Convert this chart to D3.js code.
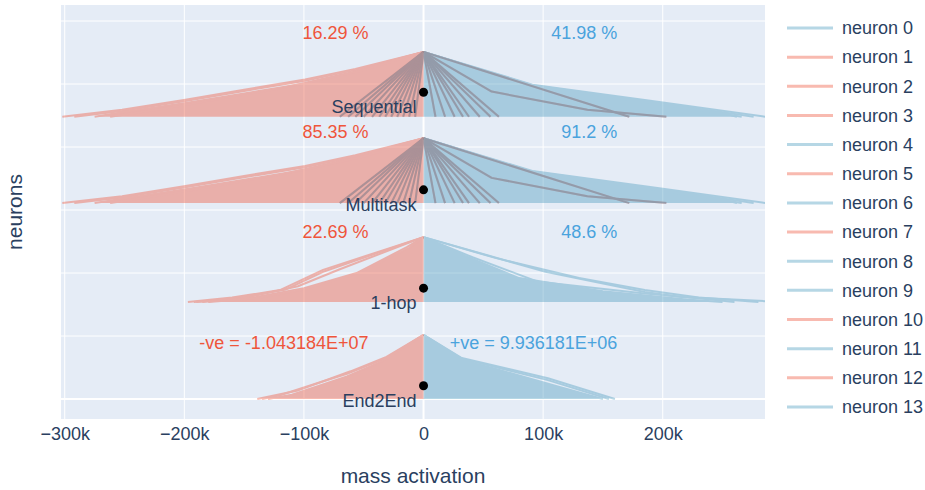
<!DOCTYPE html>
<html>
<head>
<meta charset="utf-8">
<script src="https://cdn.jsdelivr.net/npm/d3@7"></script>
<style>
  body { margin: 0; background: #fff; }
  text { font-family: "Liberation Sans", Arial, sans-serif; }
</style>
</head>
<body>
<svg id="chart"></svg>
<script>
const width = 925;
const height = 490;

// ---- data (x in thousands, heights in "neurons" axis units above each model's baseline)
const neurons = ['neuron 0', 'neuron 1', 'neuron 2', 'neuron 3', 'neuron 4', 'neuron 5', 'neuron 6',
  'neuron 7', 'neuron 8', 'neuron 9', 'neuron 10', 'neuron 11', 'neuron 12', 'neuron 13'];
const neuronSign = ['+', '-', '-', '-', '+', '-', '+', '-', '+', '+', '-', '+', '-', '+'];

const models = ['Sequential', 'Multitask', '1-hop', 'End2End'];
const modelBase = [4.48, 3.11, 1.54, 0];
const modelTop = [1.03, 1.03, 1.03, 1.02];
const markerY = [4.87, 3.32, 1.76, 0.21];
const negText = ['16.29 %', '85.35 %', '22.69 %', '-ve = -1.043184E+07'];
const posText = ['41.98 %', '91.2 %', '48.6 %', '+ve = 9.936181E+06'];
const textY = [5.81, 4.24, 2.65, 0.89];

const xTicks = [-300, -200, -100, 0, 100, 200];
const yGrid = [0, 1, 2, 3, 4, 5, 6];

// Sequential / Multitask
const seqNegLines = [
  [[0, 1.03], [-57, 0.76], [-99, 0.59], [-150, 0.43], [-199, 0.27], [-252, 0.11], [-302, 0]],
  [[0, 1.03], [-57, 0.74], [-99, 0.57], [-150, 0.41], [-199, 0.25], [-252, 0.09], [-292, 0]],
  [[0, 1.03], [-57, 0.72], [-120, 0.45], [-220, 0.12], [-262, 0]]
];
const seqNegFill = [[0, 1.03], [-50, 0.74], [-99, 0.53], [-150, 0.37], [-199, 0.22], [-252, 0.07], [-275, 0]];
const seqPosLines = [
  [[0, 1.03], [91, 0.51], [188, 0.26], [286, 0]],
  [[0, 1.03], [91, 0.50], [200, 0.21], [276, 0]],
  [[0, 1.03], [95, 0.47], [170, 0.27], [250, 0.06], [262, 0]]
];
const seqPosFill = [[0, 1.03], [91, 0.49], [188, 0.23], [250, 0.05], [266, 0]];
const seqFanEnds = [-70, -63, -57, -50, -43, -37, -32, -27, -22, -17, -12, -7,
  10, 18, 26, 33, 38, 47, 56, 63, 172];
const seqFanCurves = [[[0, 1.03], [57, 0.40], [137, 0.11], [203, 0]]];

// 1-hop
const hopNegLines = [
  [[0, 1.03], [-84, 0.51], [-120, 0.19], [-160, 0.07], [-197, 0]],
  [[0, 1.03], [-84, 0.48], [-115, 0.2], [-160, 0.05], [-192, 0]],
  [[0, 1.03], [-70, 0.52], [-105, 0.25], [-150, 0.06], [-185, 0]],
  [[0, 1.03], [-14, 0.87], [-56, 0.46], [-100, 0.22], [-140, 0.08], [-190, 0]]
];
const hopNegFill = [[0, 1.03], [-12, 0.86], [-56, 0.45], [-100, 0.2], [-140, 0.06], [-180, 0]];
const hopPosLines = [
  [[0, 1.03], [102, 0.48], [185, 0.16], [216, 0.08], [300, 0]],
  [[0, 1.03], [60, 0.70], [130, 0.38], [185, 0.19], [230, 0.07], [280, 0]],
  [[0, 1.03], [41, 0.71], [96, 0.32], [183, 0.14], [240, 0.04], [260, 0]]
];
const hopPosFill = [[0, 1.03], [35, 0.73], [80, 0.38], [150, 0.17], [220, 0.04], [250, 0]];

// End2End
const e2eNegLines = [
  [[0, 1.02], [-31, 0.67], [-61, 0.44], [-106, 0.13], [-139, 0]],
  [[0, 1.02], [-31, 0.65], [-64, 0.40], [-89, 0.25], [-120, 0.06], [-135, 0]]
];
const e2eNegFill = [[0, 1.02], [-31, 0.63], [-64, 0.36], [-89, 0.2], [-110, 0.07], [-130, 0]];
const e2ePosLines = [
  [[0, 1.02], [32, 0.65], [104, 0.33], [160, 0]],
  [[0, 1.02], [32, 0.64], [104, 0.3], [155, 0]]
];
const e2ePosFill = [[0, 1.02], [32, 0.62], [60, 0.48], [110, 0.21], [150, 0]];

const fanNeurons = [2, 4];

const panels = [
  { negLines: seqNegLines, negFill: seqNegFill, posLines: seqPosLines, posFill: seqPosFill, fanEnds: seqFanEnds, fanCurves: seqFanCurves },
  { negLines: seqNegLines, negFill: seqNegFill, posLines: seqPosLines, posFill: seqPosFill, fanEnds: seqFanEnds, fanCurves: seqFanCurves },
  { negLines: hopNegLines, negFill: hopNegFill, posLines: hopPosLines, posFill: hopPosFill, fanEnds: [], fanCurves: [] },
  { negLines: e2eNegLines, negFill: e2eNegFill, posLines: e2ePosLines, posFill: e2ePosFill, fanEnds: [], fanCurves: [] }
];

// ---- drawing
const RED = '#EF553B';
const BLUE = '#4c9cbf';
const INK = '#2a3f5f';
const plot = { left: 61, right: 765, top: 5, bottom: 419 };

const svg = d3.select('#chart')
  .attr('width', width)
  .attr('height', height);

const x = d3.scaleLinear().domain([-303.1, 285.5]).range([plot.left, plot.right]);
const y = d3.scaleLinear().domain([-0.317, 6.254]).range([plot.bottom, plot.top]);

svg.append('rect')
  .attr('x', plot.left).attr('y', plot.top)
  .attr('width', plot.right - plot.left).attr('height', plot.bottom - plot.top)
  .attr('fill', '#E5ECF6');

svg.append('defs').append('clipPath').attr('id', 'clip')
  .append('rect')
  .attr('x', plot.left).attr('y', plot.top)
  .attr('width', plot.right - plot.left).attr('height', plot.bottom - plot.top);

// grid
svg.append('g').selectAll('line').data(xTicks).enter().append('line')
  .attr('x1', d => x(d)).attr('x2', d => x(d))
  .attr('y1', plot.top).attr('y2', plot.bottom)
  .attr('stroke', '#fff').attr('stroke-width', d => d === 0 ? 2 : 1);
svg.append('g').selectAll('line').data(yGrid).enter().append('line')
  .attr('x1', plot.left).attr('x2', plot.right)
  .attr('y1', d => y(d)).attr('y2', d => y(d))
  .attr('stroke', '#fff').attr('stroke-width', d => d === 0 ? 2 : 1);

const plotG = svg.append('g').attr('clip-path', 'url(#clip)');

// one group per neuron, group opacity like plotly trace opacity
neurons.forEach((name, n) => {
  const col = neuronSign[n] === '-' ? RED : BLUE;
  const g = plotG.append('g').attr('opacity', 0.4);
  panels.forEach((p, i) => {
    const base = modelBase[i];
    const line = d3.line().x(d => x(d[0])).y(d => y(base + d[1]));
    const area = d3.area().x(d => x(d[0])).y0(y(base)).y1(d => y(base + d[1]));
    let fills = [], lines = [];
    if (n === 1) { fills = [p.negFill]; lines = p.negLines.concat([p.negFill]); }
    if (n === 0) { fills = [p.posFill]; lines = p.posLines.concat([p.posFill]); }
    if (fanNeurons.includes(n)) {
      lines = lines.concat(p.fanEnds.map(e => [[0, modelTop[i]], [e, 0]]), p.fanCurves);
    }
    fills.forEach(f => g.append('path').attr('d', area(f)).attr('fill', col));
    lines.forEach(l => g.append('path').attr('d', line(l))
      .attr('fill', 'none').attr('stroke', col).attr('stroke-width', 2)
      .attr('stroke-linejoin', 'round'));
  });
});

// markers + model labels
models.forEach((m, i) => {
  const cy = y(markerY[i]);
  svg.append('circle').attr('cx', x(0)).attr('cy', cy).attr('r', 4.5).attr('fill', '#000');
  svg.append('text').attr('x', x(0) - 7).attr('y', cy + 15).attr('dy', '0.35em')
    .attr('text-anchor', 'end').attr('font-size', 18).attr('fill', INK).text(m);
  svg.append('text').attr('x', x(-46)).attr('y', y(textY[i])).attr('dy', '0.35em')
    .attr('text-anchor', 'end').attr('font-size', 18).attr('fill', RED).text(negText[i]);
  svg.append('text').attr('x', x(162)).attr('y', y(textY[i])).attr('dy', '0.35em')
    .attr('text-anchor', 'end').attr('font-size', 18).attr('fill', '#4aa3dd').text(posText[i]);
});

// x axis
const xAxis = d3.axisBottom(x)
  .tickValues(xTicks)
  .tickSize(0)
  .tickPadding(8)
  .tickFormat(d => d === 0 ? '0' : d3.format('~s')(d * 1000));
const ax = svg.append('g').attr('transform', `translate(0,${plot.bottom})`).call(xAxis);
ax.select('.domain').remove();
ax.selectAll('text').attr('font-size', 18).attr('fill', INK)
  .attr('font-family', '"Liberation Sans", Arial, sans-serif');

svg.append('text')
  .attr('x', (plot.left + plot.right) / 2).attr('y', 483)
  .attr('text-anchor', 'middle').attr('font-size', 21).attr('fill', INK)
  .text('mass activation');

svg.append('text')
  .attr('transform', `translate(22, ${(plot.top + plot.bottom) / 2}) rotate(-90)`)
  .attr('text-anchor', 'middle').attr('font-size', 21).attr('fill', INK)
  .text('neurons');

// legend
const legend = svg.append('g').selectAll('g').data(neurons).enter().append('g')
  .attr('transform', (d, i) => `translate(787, ${28 + i * 29.15})`);
legend.append('line')
  .attr('x1', 0).attr('x2', 46)
  .attr('stroke', (d, i) => neuronSign[i] === '-' ? RED : BLUE)
  .attr('stroke-width', 3).attr('opacity', 0.4);
legend.append('text')
  .attr('x', 55).attr('dy', '0.35em')
  .attr('font-size', 18).attr('fill', INK)
  .text(d => d);
</script>
</body>
</html>
